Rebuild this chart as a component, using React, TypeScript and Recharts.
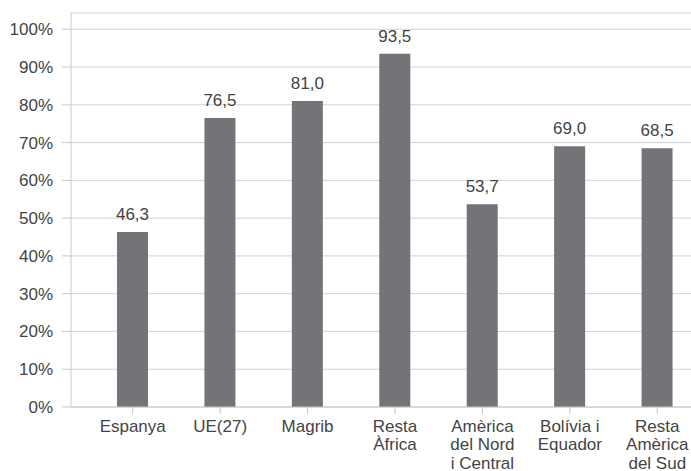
import React from "react";
import { BarChart, Bar, XAxis, YAxis, CartesianGrid, LabelList } from "recharts";

const categories = [
  "Espanya",
  "UE(27)",
  "Magrib",
  "Resta\nÀfrica",
  "Amèrica\ndel Nord\ni Central",
  "Bolívia i\nEquador",
  "Resta\nAmèrica\ndel Sud",
];
const values = [46.3, 76.5, 81.0, 93.5, 53.7, 69.0, 68.5];
const yTicks = [0, 10, 20, 30, 40, 50, 60, 70, 80, 90, 100];

const data = categories.map((c, i) => ({ name: c, value: values[i] }));

const FONT = "'Liberation Sans', Arial, sans-serif";
const TEXT = "#444444";

const XTick = (props: any) => {
  const { x, y, payload } = props;
  const lines = String(payload.value).split("\n");
  return (
    <text x={x} y={y} textAnchor="middle" fontFamily={FONT} fontSize={17} fill={TEXT}>
      {lines.map((l: string, i: number) => (
        <tspan key={i} x={x} dy={i === 0 ? 17.5 : 18.5}>
          {l}
        </tspan>
      ))}
    </text>
  );
};

export default function App() {
  return (
    <div style={{ width: 691, height: 471, overflow: "hidden", position: "relative" }}>
      <style>{"html,body{margin:0;padding:0;overflow:hidden}"}</style>
      <div style={{ position: "absolute", left: 8, top: 8 }}>
        <BarChart
          width={693}
          height={463}
          data={data}
          margin={{ top: 5, right: 0, bottom: 0, left: 0 }}
        >
          <CartesianGrid vertical={false} stroke="#d2d2d2" strokeWidth={1} />
          <XAxis
            dataKey="name"
            height={64}
            padding={{ left: 18, right: 0 }}
            axisLine={{ stroke: "#c8c8c8" }}
            tickLine={{ stroke: "#c8c8c8" }}
            tickSize={7}
            tickMargin={0}
            interval={0}
            tick={<XTick />}
          />
          <YAxis
            width={63}
            domain={[0, 104.3]}
            ticks={yTicks}
            allowDataOverflow
            tickFormatter={(v: number) => `${v}%`}
            axisLine={{ stroke: "#c8c8c8" }}
            tickLine={{ stroke: "#c8c8c8" }}
            tickSize={9}
            tickMargin={9}
            tick={{ fontFamily: FONT, fontSize: 17, fill: TEXT }}
          />
          <Bar dataKey="value" fill="#747478" barSize={31} isAnimationActive={false}>
            <LabelList
              dataKey="value"
              position="top"
              offset={12}
              formatter={(v: any) => Number(v).toFixed(1).replace(".", ",")}
              style={{ fontFamily: FONT, fontSize: 17, fill: TEXT }}
            />
          </Bar>
        </BarChart>
      </div>
    </div>
  );
}
